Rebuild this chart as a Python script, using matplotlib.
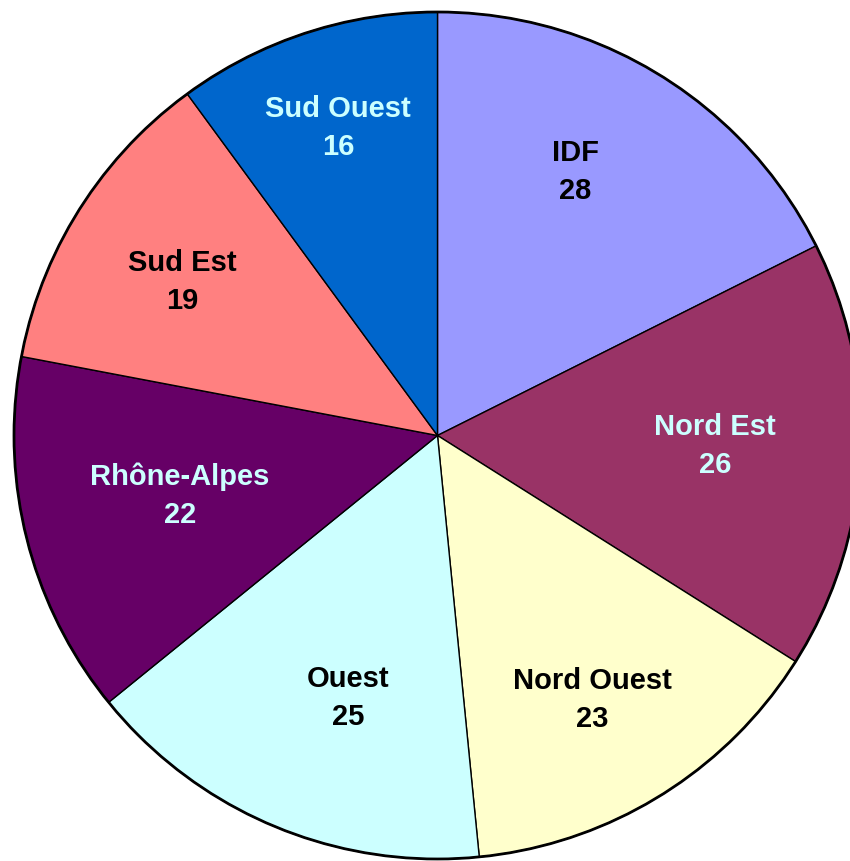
import matplotlib
matplotlib.use("Agg")
import matplotlib.pyplot as plt
import numpy as np
from matplotlib.patches import Circle

regions = ["IDF", "Nord Est", "Nord Ouest", "Ouest", "Rhône-Alpes", "Sud Est", "Sud Ouest"]
values = [28, 26, 23, 25, 22, 19, 16]
colors = ["#9999FF", "#993366", "#FFFFCC", "#CCFFFF", "#660066", "#FF8080", "#0066CC"]
text_colors = ["black", "#CCFFFF", "black", "black", "#CCFFFF", "black", "#CCFFFF"]
# label placement style (radius fraction, angle offset in degrees)
label_r = [0.702, 0.656, 0.723, 0.655, 0.625, 0.704, 0.763]
label_dt = [4.1, 0.6, -1.4, 3.8, -1.0, 1.2, -0.2]

plt.rcParams['font.family'] = ['Liberation Sans', 'DejaVu Sans']

fig = plt.figure(figsize=(8.5, 8.61), dpi=100)
ax = fig.add_axes([0, 0, 1, 1])
ax.axis("off")

cx, cy, r = 437.5, 435.5, 423.5
W, H = 850, 861

wedges, _ = ax.pie(values, colors=colors, startangle=90, counterclock=False,
                   radius=1, center=(0, 0),
                   wedgeprops=dict(edgecolor="black", linewidth=1.0))
ax.add_patch(Circle((0, 0), 1, fill=False, edgecolor="black", linewidth=2.0, zorder=5))

for w, name, v, tc, lr, dt in zip(wedges, regions, values, text_colors, label_r, label_dt):
    mid = np.deg2rad((w.theta1 + w.theta2) / 2 + dt)
    ax.text(lr * np.cos(mid), lr * np.sin(mid), f"{name}\n{v}", ha="center", va="center",
            fontsize=21, fontweight="bold", color=tc, linespacing=1.45, zorder=6)

ax.set_xlim(-cx / r, (W - cx) / r)
ax.set_ylim((cy - H) / r, cy / r)
ax.set_aspect("auto")

fig.savefig("out.png", dpi=100)
